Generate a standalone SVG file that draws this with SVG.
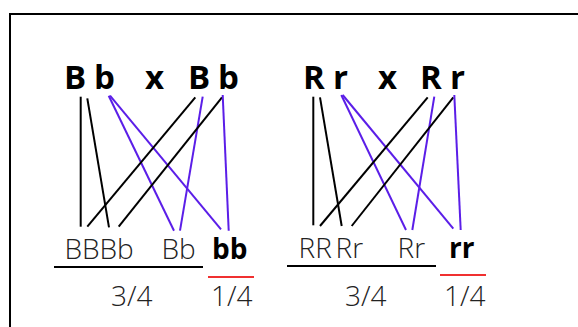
<svg xmlns="http://www.w3.org/2000/svg" width="578" height="327" viewBox="0 0 578 327">
<style>
.p{font-family:"Open Sans","Liberation Sans",sans-serif;font-size:33px;font-weight:700;fill:#000}
.o{font-family:"Open Sans","Liberation Sans",sans-serif;font-size:28px;font-weight:300;fill:#222}
.ob{font-family:"Open Sans","Liberation Sans",sans-serif;font-size:28px;font-weight:700;fill:#000}
.k{stroke:#000;stroke-width:2;fill:none}
.v{stroke:#5b1ee8;stroke-width:2;fill:none}
.r{stroke:#f03030;stroke-width:2}
</style>
<rect width="578" height="327" fill="#fff"/>
<rect x="10" y="14" width="580" height="330" fill="none" stroke="#000" stroke-width="2"/>
<g id="parentsB">
<text class="p" x="64" y="89">B</text>
<text class="p" x="94" y="89">b</text>
<text class="p" x="145" y="89">x</text>
<text class="p" x="188" y="89">B</text>
<text class="p" x="218" y="89">b</text>
</g>
<g id="parentsR">
<text class="p" x="303" y="89">R</text>
<text class="p" x="333" y="89">r</text>
<text class="p" x="378" y="89">x</text>
<text class="p" x="420" y="89">R</text>
<text class="p" x="450" y="89">r</text>
</g>
<g id="connectors">
<line class="k" x1="80.7" y1="96.7" x2="80.7" y2="226.7"/>
<line class="k" x1="87.3" y1="98.3" x2="109" y2="227.3"/>
<line class="v" x1="108.7" y1="95.7" x2="174" y2="230.7"/>
<line class="v" x1="110" y1="95.7" x2="221" y2="229.3"/>
<line class="k" x1="195.3" y1="97.3" x2="87.3" y2="226.7"/>
<line class="v" x1="202.7" y1="96.7" x2="180" y2="230.7"/>
<line class="k" x1="222" y1="97.3" x2="118.7" y2="226.7"/>
<line class="v" x1="222.7" y1="95" x2="228.7" y2="230.7"/>
<line class="k" x1="313.3" y1="96.7" x2="313.3" y2="225.3"/>
<line class="k" x1="320" y1="97.3" x2="341.7" y2="226"/>
<line class="v" x1="341.3" y1="95" x2="406" y2="230"/>
<line class="v" x1="342.7" y1="95" x2="453.3" y2="228.7"/>
<line class="k" x1="427.7" y1="97.3" x2="320" y2="226"/>
<line class="v" x1="434.3" y1="96.7" x2="412.3" y2="230"/>
<line class="k" x1="453.3" y1="97.3" x2="351.7" y2="226"/>
<line class="v" x1="454.3" y1="95" x2="460.7" y2="230"/>
<line class="k" x1="54" y1="267" x2="203" y2="267"/>
<line class="r" x1="208" y1="277" x2="254" y2="277"/>
<line class="k" x1="287" y1="266" x2="436" y2="266"/>
<line class="r" x1="440" y1="275" x2="486" y2="275"/>
</g>
<g id="offspringB">
<text class="o" x="64.5" y="259">BB</text>
<text class="o" x="99.5" y="259">Bb</text>
<text class="o" x="161.5" y="259">Bb</text>
<text class="ob" x="212" y="259">bb</text>
</g>
<g id="offspringR">
<text class="o" x="298.5" y="258">RR</text>
<text class="o" x="335.5" y="258">Rr</text>
<text class="o" x="397.5" y="258">Rr</text>
<text class="ob" x="449" y="258">rr</text>
</g>
<g id="ratios">
<text class="o" x="111" y="306">3/4</text>
<text class="o" x="211" y="306">1/4</text>
<text class="o" x="345" y="306">3/4</text>
<text class="o" x="444" y="306">1/4</text>
</g>
</svg>
